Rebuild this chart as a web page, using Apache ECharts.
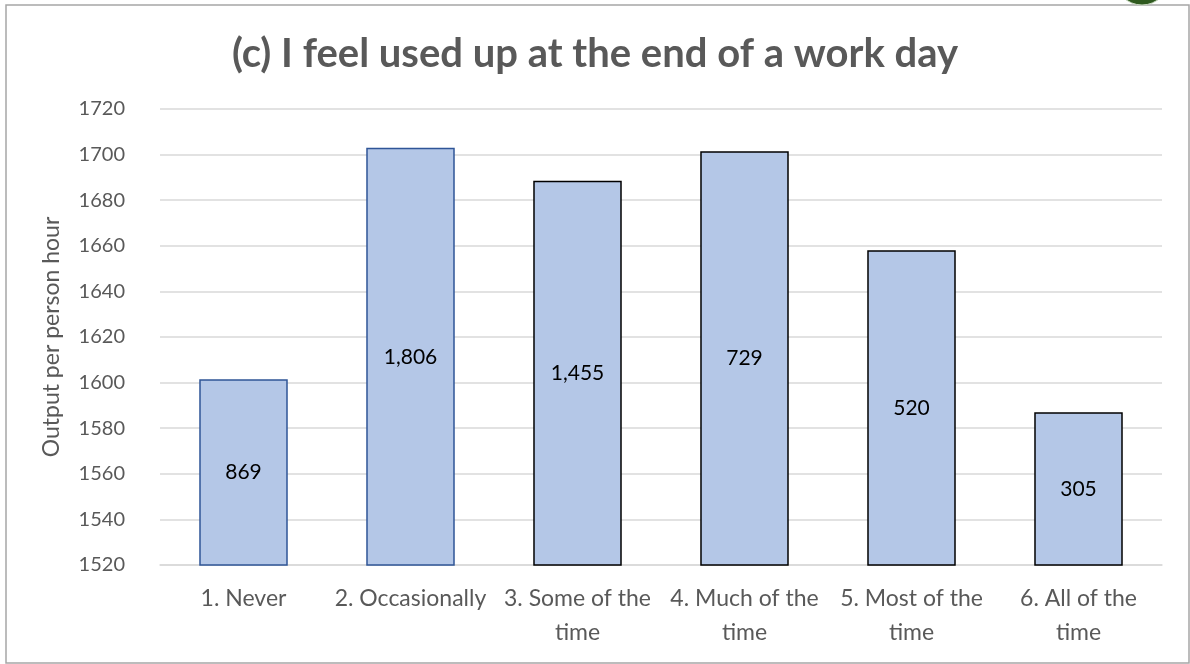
<!DOCTYPE html>
<html>
<head>
<meta charset="utf-8">
<script src="https://cdn.jsdelivr.net/npm/echarts@6/dist/echarts.min.js"></script>
<style>
  html, body { margin: 0; padding: 0; background: #fff; }
  #chart { width: 1190px; height: 664px; }
</style>
</head>
<body>
<div id="chart"></div>
<script>
// Survey response groups and average output per person hour
const categories = ['1. Never', '2. Occasionally', '3. Some of the time', '4. Much of the time', '5. Most of the time', '6. All of the time'];
const outputPerHour = [1601.5, 1703, 1688.5, 1701.5, 1658, 1587];
// Number of respondents in each group (printed inside the bars)
const respondents = [869, 1806, 1455, 729, 520, 305];
const yTicks = { min: 1520, max: 1720, interval: 20 };

const borderColors = ['#2F5597', '#2F5597', '#000000', '#000000', '#000000', '#000000'];
const fmt = n => n.toLocaleString('en-US');
const font = 'Lato, "Open Sans", sans-serif';

const chart = echarts.init(document.getElementById('chart'), null, { renderer: 'canvas' });
chart.setOption({
  animation: false,
  backgroundColor: '#ffffff',
  title: {
    text: '(c) I feel used up at the end of a work day',
    left: 'center',
    top: 29,
    textStyle: { fontFamily: font, fontSize: 40, fontWeight: 'bold', color: '#595959' }
  },
  grid: { left: 160, right: 28, top: 109, bottom: 99 },
  xAxis: {
    type: 'category',
    data: categories,
    axisLine: { lineStyle: { color: '#d9d9d9', width: 1.5 } },
    axisTick: { show: false },
    axisLabel: {
      interval: 0,
      margin: 17,
      fontFamily: font,
      fontSize: 23,
      lineHeight: 34,
      color: '#595959',
      formatter: v => v.replace(/ time$/, '\ntime')
    }
  },
  yAxis: {
    type: 'value',
    min: yTicks.min,
    max: yTicks.max,
    interval: yTicks.interval,
    name: 'Output per person hour',
    nameLocation: 'middle',
    nameGap: 97,
    nameTextStyle: { fontFamily: font, fontSize: 23, color: '#595959' },
    axisLine: { show: false },
    axisTick: { show: false },
    splitLine: { lineStyle: { color: '#d9d9d9', width: 1.5 } },
    axisLabel: { margin: 35, fontFamily: font, fontSize: 20, color: '#595959', formatter: v => String(v) }
  },
  series: [{
    type: 'bar',
    barWidth: '53%',
    data: outputPerHour.map((v, i) => ({
      value: v,
      itemStyle: { color: '#B4C7E7', borderColor: borderColors[i], borderWidth: 1.5 },
      label: { formatter: fmt(respondents[i]) }
    })),
    label: {
      show: true,
      position: 'inside',
      fontFamily: font,
      fontSize: 21,
      color: '#000000'
    }
  }],
  graphic: [
    {
      type: 'rect',
      shape: { x: 6, y: 5, width: 1183, height: 658 },
      style: { fill: null, stroke: '#a6a6a6', lineWidth: 1.5 },
      silent: true
    },
    {
      type: 'circle',
      shape: { cx: 1142, cy: -22, r: 27 },
      style: { fill: '#2f5a1f', stroke: '#c9d9c0', lineWidth: 1 },
      silent: true
    }
  ]
});
</script>
</body>
</html>
